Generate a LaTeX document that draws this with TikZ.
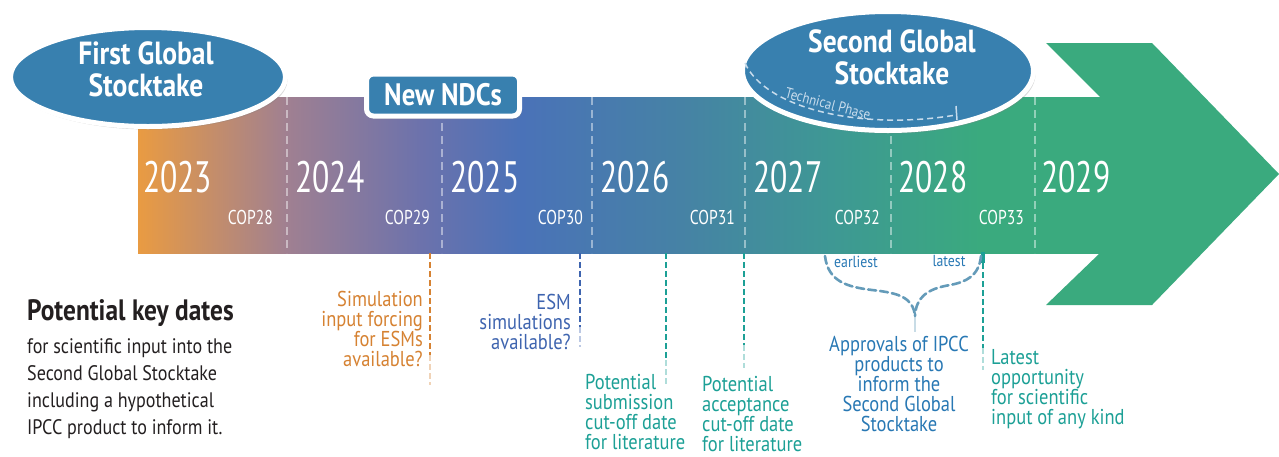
\documentclass[tikz,border=0pt]{standalone}
\usepackage{fontspec}
\setmainfont{PT Sans}[FakeStretch=0.86]
\newfontfamily\yearfont{PT Sans}[FakeStretch=0.72]
\newfontfamily\copfont{PT Sans}[FakeStretch=0.78]
\usetikzlibrary{shapes.geometric,shadows}
\lineskiplimit=-30pt
\definecolor{orangeA}{RGB}{233,155,66}
\definecolor{mauveA}{RGB}{160,128,145}
\definecolor{purpA}{RGB}{108,114,172}
\definecolor{blueA}{RGB}{74,114,184}
\definecolor{steelA}{RGB}{70,130,165}
\definecolor{tealA}{RGB}{62,152,148}
\definecolor{greenA}{RGB}{58,170,126}
\definecolor{ellblue}{RGB}{56,128,175}
\definecolor{orangeT}{RGB}{214,130,50}
\definecolor{blueT}{RGB}{62,100,175}
\definecolor{tealT}{RGB}{28,160,150}
\definecolor{apprT}{RGB}{40,120,180}
\definecolor{braceC}{RGB}{100,155,185}
\definecolor{darkT}{RGB}{35,31,32}
\definecolor{phaseT}{RGB}{200,220,236}
\pgfdeclarehorizontalshading{bandshade}{100bp}{color(0bp)=(orangeA); color(25bp)=(orangeA); color(32.7bp)=(mauveA); color(39.7bp)=(purpA); color(44.9bp)=(blueA); color(53.2bp)=(steelA); color(61bp)=(tealA); color(68.8bp)=(greenA); color(100bp)=(greenA)}
\begin{document}
\begin{tikzpicture}[x=1pt,y=-1pt,
  yr/.style={font=\yearfont\fontsize{44}{44}\selectfont, text=white, anchor=west, inner sep=0pt},
  cop/.style={font=\copfont\fontsize{20}{20}\selectfont, text=white, anchor=east, inner sep=0pt},
  divider/.style={draw=white, draw opacity=0.45, line width=2pt, dash pattern=on 8pt off 5pt},
  ann/.style={font=\fontsize{21.5}{20}\selectfont, inner sep=0pt},
  keyline/.style={line width=1.8pt, dash pattern=on 6pt off 3pt},
  braceline/.style={draw=braceC, line width=2.6pt, dash pattern=on 8pt off 4pt, line cap=round},
  bubble/.style={ellipse, fill=ellblue, draw=white, line width=5pt, inner sep=0pt,
    drop shadow={shadow xshift=2pt, shadow yshift=-3pt, opacity=0.3}},
  titletxt/.style={font=\bfseries\fontsize{32}{32}\selectfont, text=white, align=center, inner sep=0pt}
]
\useasboundingbox (0,0) rectangle (1279,456);
\fill[white] (0,0) rectangle (1279,456);

% band and arrow
\shade[shading=bandshade] (138,97) rectangle (1100,253);
\fill[greenA] (1046,43) -- (1152,43) -- (1279,174) -- (1152,305) -- (1046,305) -- (1100,253) -- (1100,97) -- cycle;
\foreach \x in {287,442,592,745,891,1035} \draw[divider] (\x,97) -- (\x,253);

% years
\node[yr] (y2023) at (143,177) {2023};
\node[yr] (y2024) at (295,177) {2024};
\node[yr] (y2025) at (450,177) {2025};
\node[yr] (y2026) at (600,177) {2026};
\node[yr] (y2027) at (753,177) {2027};
\node[yr] (y2028) at (898,177) {2028};
\node[yr] (y2029) at (1041,177) {2029};
\node[cop] (c28) at (273,217) {COP28};
\node[cop] (c29) at (430,217) {COP29};
\node[cop] (c30) at (583,217) {COP30};
\node[cop] (c31) at (735,217) {COP31};
\node[cop] (c32) at (880,217) {COP32};
\node[cop] (c33) at (1024,217) {COP33};

% stocktakes
\node[bubble, minimum width=275pt, minimum height=99pt] (fgs) at (148,77) {};
\node[titletxt] (fgst) at (146,69) {First Global\\Stocktake};
\node[bubble, minimum width=291pt, minimum height=119pt] (sgs) at (888,71) {};
\node[titletxt] (sgst) at (892,57) {Second Global\\Stocktake};
\draw[phaseT, line width=1.5pt, dash pattern=on 6pt off 4pt] (745,63) .. controls (765,108) and (860,131) .. (956,115);
\draw[phaseT, line width=1.5pt] (956,106) -- (957,120);
\node[font=\fontsize{15}{15}\selectfont, text=phaseT, rotate=-15, inner sep=0pt] (tp) at (828,104) {Technical Phase};

\node[draw=white, line width=5pt, fill=ellblue, rounded corners=7pt, minimum width=153pt, minimum height=42pt, inner sep=0pt,
  drop shadow={shadow xshift=2pt, shadow yshift=-3pt, opacity=0.3},
  font=\bfseries\fontsize{31}{31}\selectfont, text=white] (ndc) at (443,95) {New NDCs};

% key date lines
\coordinate (o1) at (430,253); \coordinate (o2) at (430,355); \coordinate (o3) at (430,385);
\draw[keyline, orangeT] (o1) -- (o2);
\draw[keyline, orangeT, opacity=0.35] (o2) -- (o3);
\node[ann, text=orangeT, align=right, anchor=north east] (simtxt) at (423,291) {Simulation\\input forcing\\for ESMs\\available?};

\coordinate (e1) at (580,253); \coordinate (e2) at (580,327); \coordinate (e3) at (580,347);
\draw[keyline, blueT] (e1) -- (e2);
\draw[keyline, blueT, opacity=0.35] (e2) -- (e3);
\node[ann, text=blueT, align=right, anchor=north east] (esmtxt) at (571,294) {ESM\\simulations\\available?};

\coordinate (s1) at (666,253); \coordinate (s2) at (666,360); \coordinate (s3) at (666,385);
\draw[keyline, tealT] (s1) -- (s2);
\draw[keyline, tealT, opacity=0.35] (s2) -- (s3);
\node[ann, text=tealT, align=left, anchor=north west] (subtxt) at (585,374) {Potential\\submission\\cut-off date\\for literature};

\coordinate (a1) at (744,253); \coordinate (a2) at (744,345); \coordinate (a3) at (744,368);
\draw[keyline, tealT] (a1) -- (a2);
\draw[keyline, tealT, opacity=0.35] (a2) -- (a3);
\node[ann, text=tealT, align=left, anchor=north west] (acctxt) at (702,376) {Potential\\acceptance\\cut-off date\\for literature};

\coordinate (l0) at (983,252); \coordinate (l1) at (983,263); \coordinate (l2) at (983,348); \coordinate (l3) at (983,370);
\draw[tealT, line width=4pt] (l0) -- (l1);
\draw[keyline, tealT] (l1) -- (l2);
\draw[keyline, tealT, opacity=0.35] (l2) -- (l3);
\node[ann, text=tealT, align=left, anchor=north west] (lattxt) at (991,349) {Latest\\opportunity\\for scientific\\input of any kind};

% brace
\coordinate (bl) at (825,256); \coordinate (br) at (981,256); \coordinate (bt) at (915,316); \coordinate (bt2) at (915,332);
\draw[braceline] (bl) .. controls (828,282) and (848,287) .. (872,290) .. controls (900,293) and (913,298) .. (bt);
\draw[braceline] (br) .. controls (979,276) and (966,282) .. (950,285) .. controls (926,289) and (916,298) .. (bt);
\draw[braceC, line width=2.6pt, opacity=0.35] (bt) -- (bt2);
\node[font=\fontsize{16}{16}\selectfont, text=apprT, inner sep=0pt] (earl) at (856,262) {earliest};
\node[font=\fontsize{16}{16}\selectfont, text=apprT, inner sep=0pt] (late) at (949,261) {latest};
\node[ann, text=apprT, align=center, anchor=north] (apptxt) at (899,336) {Approvals of IPCC\\products to\\inform the\\Second Global\\Stocktake};

% left text
\node[font=\bfseries\fontsize{29.5}{30}\selectfont, text=darkT, anchor=west, inner sep=0pt] (pkd) at (27,313) {Potential key dates};
\node[font=\fontsize{21}{27}\selectfont, text=darkT, anchor=north west, align=left, inner sep=0pt] (pkdsub) at (27,338) {for scientific input into the\\Second Global Stocktake\\including a hypothetical\\IPCC product to inform it.};
\end{tikzpicture}
\end{document}
